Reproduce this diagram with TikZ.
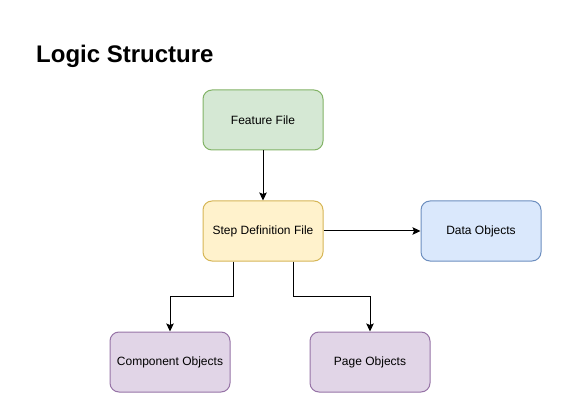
\documentclass[tikz,border=0pt]{standalone}
\usepackage{fontspec}
\setmainfont{Liberation Sans}
\usepackage{xcolor}
\usetikzlibrary{arrows.meta, positioning}

\definecolor{greenfill}{HTML}{D5E8D4}
\definecolor{greenline}{HTML}{82B366}
\definecolor{yellowfill}{HTML}{FFF2CC}
\definecolor{yellowline}{HTML}{D6B656}
\definecolor{bluefill}{HTML}{DAE8FC}
\definecolor{blueline}{HTML}{6C8EBF}
\definecolor{purplefill}{HTML}{E1D5E7}
\definecolor{purpleline}{HTML}{9673A6}

\begin{document}
\begin{tikzpicture}[
    x=1pt, y=1pt,
    node distance=50pt and 97pt,
    box/.style={rectangle, draw, line width=1pt, rounded corners=9pt, minimum height=60pt, minimum width=120pt, inner sep=0pt, align=center, font=\fontsize{12}{14}\selectfont},
    arrow/.style={-{Stealth[length=8pt, width=7.5pt, inset=1.5pt]}, line width=1pt}
]
    \useasboundingbox (0,0) rectangle (561,-411);

    \node[anchor=base west, inner sep=0pt, font=\bfseries\fontsize{24}{28}\selectfont] (title) at (36,-63) {Logic Structure};

    \node[box, fill=greenfill, draw=greenline] (feature) at (263,-120) {Feature File};
    \node[box, fill=yellowfill, draw=yellowline, below=of feature] (step) {Step Definition File};
    \node[box, fill=bluefill, draw=blueline, right=of step] (data) {Data Objects};

    \node[box, fill=purplefill, draw=purpleline, below=70pt of step, xshift=-93pt] (comp) {Component Objects};
    \node[box, fill=purplefill, draw=purpleline, below=70pt of step, xshift=107pt] (page) {Page Objects};

    \draw[arrow] (feature) -- (step);
    \draw[arrow] (step) -- (data);
    \draw[arrow] ([xshift=-30pt]step.south) -- ++(0,-35) -| (comp.north);
    \draw[arrow] ([xshift=30pt]step.south) -- ++(0,-35) -| (page.north);
\end{tikzpicture}
\end{document}
